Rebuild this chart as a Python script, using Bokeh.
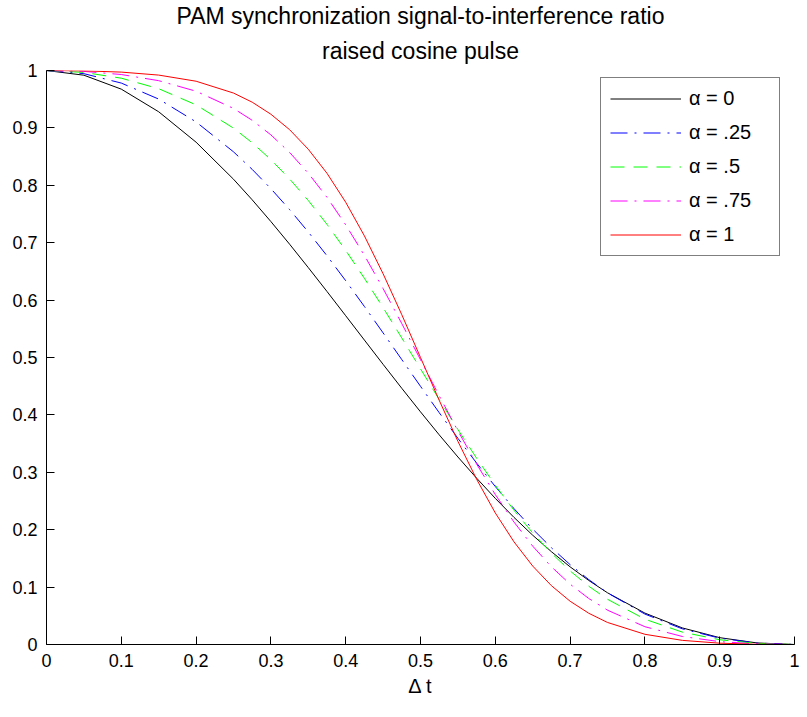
from bokeh.plotting import figure
from bokeh.models import Range1d, FixedTicker, Title
from bokeh.embed import file_html
from bokeh.resources import INLINE

# Delta t sample positions
dt = [0.0, 0.05, 0.10, 0.15, 0.20, 0.25, 0.275, 0.30, 0.325, 0.35, 0.375, 0.40, 0.425, 0.45,
      0.475, 0.50, 0.525, 0.55, 0.575, 0.60, 0.625, 0.65, 0.675, 0.70, 0.725, 0.75,
      0.80, 0.85, 0.90, 0.95, 1.0]

# signal-to-interference ratio, one list per roll-off factor
sir_a0 = [1.0, 0.9918, 0.9675, 0.9281, 0.8751, 0.8106, 0.7747, 0.7368, 0.6974, 0.6566, 0.6150,
          0.5728, 0.5304, 0.4881, 0.4463, 0.4053, 0.3653, 0.3267, 0.2898, 0.2546, 0.2214,
          0.1904, 0.1617, 0.1353, 0.1115, 0.0901, 0.0547, 0.0289, 0.0119, 0.0027, 0.0]
sir_a25 = [1.0, 0.9945, 0.9781, 0.9502, 0.9104, 0.8583, 0.8277, 0.7941, 0.7577, 0.7186, 0.6772,
           0.6338, 0.5889, 0.5429, 0.4963, 0.4498, 0.4039, 0.3592, 0.3161, 0.2752, 0.2367,
           0.2011, 0.1686, 0.1392, 0.1130, 0.0899, 0.0530, 0.0273, 0.0110, 0.0025, 0.0]
sir_a50 = [1.0, 0.9967, 0.9866, 0.9683, 0.9401, 0.8996, 0.8741, 0.8446, 0.8111, 0.7735, 0.7319,
           0.6866, 0.6380, 0.5869, 0.5340, 0.4803, 0.4269, 0.3746, 0.3246, 0.2775, 0.2339,
           0.1944, 0.1592, 0.1282, 0.1015, 0.0788, 0.0441, 0.0216, 0.0083, 0.0018, 0.0]
sir_a75 = [1.0, 0.9984, 0.9930, 0.9823, 0.9639, 0.9339, 0.9132, 0.8878, 0.8572, 0.8210, 0.7790,
           0.7311, 0.6779, 0.6201, 0.5590, 0.4961, 0.4333, 0.3722, 0.3144, 0.2612, 0.2133,
           0.1714, 0.1354, 0.1051, 0.0801, 0.0598, 0.0310, 0.0140, 0.0050, 0.0010, 0.0]
sir_a100 = [1.0, 0.9994, 0.9972, 0.9920, 0.9813, 0.9607, 0.9448, 0.9238, 0.8969, 0.8628, 0.8209,
            0.7705, 0.7119, 0.6459, 0.5745, 0.5000, 0.4255, 0.3540, 0.2880, 0.2292, 0.1788,
            0.1367, 0.1025, 0.0754, 0.0544, 0.0384, 0.0178, 0.0072, 0.0023, 0.0004, 0.0]

series_labels = ["\u03b1 = 0", "\u03b1 = .25", "\u03b1 = .5", "\u03b1 = .75", "\u03b1 = 1"]

tick_values = [0, 0.1, 0.2, 0.3, 0.4, 0.5, 0.6, 0.7, 0.8, 0.9, 1]
tick_labels = ["0", "0.1", "0.2", "0.3", "0.4", "0.5", "0.6", "0.7", "0.8", "0.9", "1"]

title_line1 = "PAM synchronization signal-to-interference ratio"
title_line2 = "raised cosine pulse"
x_label = "\u0394 t"

FONT = "Liberation Sans"

p = figure(width=799, height=708,
           x_range=Range1d(0, 1), y_range=Range1d(0, 1),
           output_backend="svg", toolbar_location=None,
           title=title_line1,
           min_border_left=46, min_border_right=5,
           min_border_top=66, min_border_bottom=64,
           background_fill_color="white", border_fill_color="white")
p.outline_line_color = None
p.grid.visible = False

# top title line (further from the plot)
p.title.align = "center"
p.title.text_font = FONT
p.title.text_font_size = "23px"
p.title.text_font_style = "normal"
p.title.text_color = "black"
p.title.standoff = 0
# second title line (closest to the plot)
t2 = Title(text=title_line2, align="center", text_font=FONT, text_font_size="23px",
           text_font_style="normal", text_color="black", standoff=14)
p.add_layout(t2, "above")

styles = [
    dict(color="#000000", line_dash="solid"),
    dict(color="#0000FF", line_dash="17 7 2 7"),
    dict(color="#00FF00", line_dash="14 9"),
    dict(color="#FF00FF", line_dash="17 7 2 7"),
    dict(color="#FF0000", line_dash="solid"),
]
for ys, lab, st in zip([sir_a0, sir_a25, sir_a50, sir_a75, sir_a100], series_labels, styles):
    p.line(dt, ys, line_color=st["color"], line_dash=st["line_dash"], line_width=1,
           legend_label=lab)

overrides = {v: s for v, s in zip(tick_values, tick_labels)}
for ax in (p.xaxis[0], p.yaxis[0]):
    ax.ticker = FixedTicker(ticks=tick_values)
    ax.major_label_overrides = overrides
    ax.minor_tick_line_color = None
    ax.major_tick_in = 8
    ax.major_tick_out = 0
    ax.axis_line_color = "black"
    ax.major_tick_line_color = "black"
    ax.major_label_text_font = FONT
    ax.major_label_text_font_size = "18px"
    ax.major_label_text_color = "black"
    ax.major_label_standoff = 9

p.xaxis.axis_label = x_label
p.xaxis.axis_label_text_font = FONT
p.xaxis.axis_label_text_font_size = "20px"
p.xaxis.axis_label_text_font_style = "normal"
p.xaxis.axis_label_text_color = "black"
p.xaxis.axis_label_standoff = 5

leg = p.legend[0]
leg.location = (554, 388)
leg.label_text_font = FONT
leg.label_text_font_size = "20px"
leg.label_text_color = "black"
leg.glyph_width = 71
leg.glyph_height = 21
leg.label_height = 21
leg.label_width = 81
leg.label_standoff = 8
leg.padding = 9
leg.spacing = 11
leg.margin = 0
leg.border_line_color = "black"
leg.border_line_width = 1
leg.background_fill_color = "white"
leg.background_fill_alpha = 1.0

open("out.html", "w").write(file_html(p, INLINE))
